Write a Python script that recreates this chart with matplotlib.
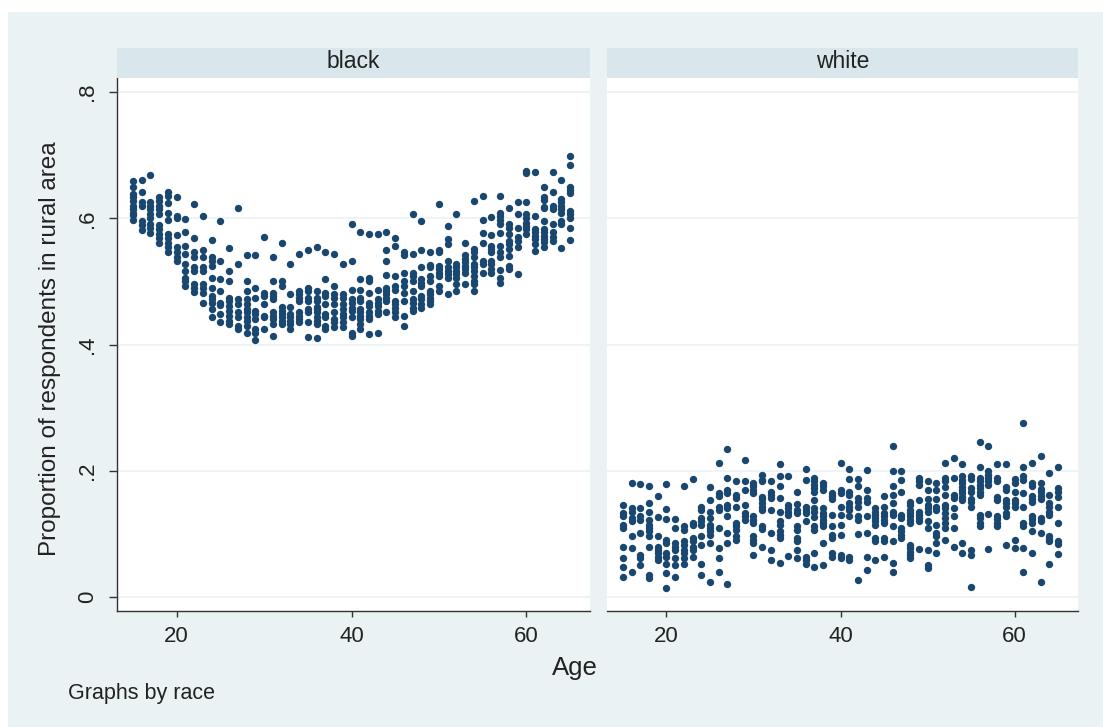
import matplotlib
matplotlib.use("Agg")
import matplotlib.pyplot as plt
from matplotlib.patches import Rectangle
from matplotlib import font_manager

# ---------------- data ----------------
ages = list(range(15, 66))
panel_titles = ["black", "white"]
y_ticks = [0, 0.2, 0.4, 0.6, 0.8]
y_ticklabels = ["0", ".2", ".4", ".6", ".8"]
x_ticks = [20, 40, 60]
x_ticklabels = ["20", "40", "60"]
y_title = "Proportion of respondents in rural area"
x_title = "Age"
note_text = "Graphs by race"

black_vals = [
    [0.659, 0.650, 0.638, 0.633, 0.628, 0.620, 0.615, 0.609, 0.605, 0.597],  # 15
    [0.660, 0.641, 0.625, 0.620, 0.595, 0.590, 0.581],
    [0.668, 0.625, 0.620, 0.615, 0.607, 0.600, 0.591, 0.585, 0.576],
    [0.633, 0.628, 0.620, 0.615, 0.607, 0.590, 0.583, 0.575, 0.568, 0.560],
    [0.641, 0.636, 0.624, 0.609, 0.597, 0.575, 0.568, 0.560, 0.554, 0.547],
    [0.634, 0.604, 0.600, 0.574, 0.555, 0.547, 0.538, 0.532],  # 20
    [0.599, 0.579, 0.556, 0.543, 0.528, 0.517, 0.506, 0.501, 0.493],
    [0.623, 0.568, 0.547, 0.538, 0.523, 0.517, 0.496, 0.489, 0.483],
    [0.603, 0.549, 0.538, 0.522, 0.517, 0.496, 0.489, 0.482, 0.465],
    [0.565, 0.538, 0.532, 0.525, 0.506, 0.489, 0.477, 0.472, 0.466, 0.456, 0.443],
    [0.595, 0.532, 0.503, 0.485, 0.466, 0.463, 0.449, 0.435],  # 25
    [0.553, 0.516, 0.501, 0.474, 0.469, 0.461, 0.453, 0.445, 0.438, 0.432],
    [0.616, 0.527, 0.472, 0.464, 0.451, 0.443, 0.430, 0.424],
    [0.542, 0.501, 0.485, 0.472, 0.464, 0.456, 0.451, 0.443, 0.437, 0.429, 0.419],
    [0.542, 0.490, 0.474, 0.453, 0.448, 0.440, 0.424, 0.419, 0.407],
    [0.571, 0.482, 0.477, 0.464, 0.445, 0.443, 0.424],  # 30
    [0.538, 0.501, 0.482, 0.477, 0.472, 0.451, 0.445, 0.440, 0.432, 0.414],
    [0.560, 0.501, 0.493, 0.459, 0.453, 0.448, 0.443, 0.437, 0.432],
    [0.528, 0.480, 0.460, 0.448, 0.443, 0.437, 0.432, 0.424],
    [0.543, 0.485, 0.480, 0.474, 0.469, 0.451, 0.445, 0.440, 0.435],
    [0.549, 0.490, 0.485, 0.474, 0.469, 0.456, 0.451, 0.435, 0.412],  # 35
    [0.555, 0.485, 0.474, 0.469, 0.460, 0.456, 0.451, 0.443, 0.437, 0.432, 0.411],
    [0.547, 0.503, 0.482, 0.477, 0.464, 0.448, 0.443, 0.429, 0.424],
    [0.543, 0.493, 0.480, 0.474, 0.464, 0.451, 0.440, 0.435, 0.427],
    [0.527, 0.480, 0.474, 0.464, 0.456, 0.448, 0.443, 0.435, 0.427],
    [0.591, 0.533, 0.487, 0.472, 0.466, 0.458, 0.453, 0.443, 0.419, 0.414],  # 40
    [0.578, 0.503, 0.486, 0.474, 0.469, 0.456, 0.451, 0.445, 0.440, 0.432, 0.424],
    [0.575, 0.506, 0.501, 0.482, 0.466, 0.461, 0.451, 0.445, 0.440, 0.416],
    [0.575, 0.487, 0.472, 0.466, 0.461, 0.453, 0.448, 0.419],
    [0.579, 0.550, 0.532, 0.510, 0.490, 0.485, 0.480, 0.474, 0.469, 0.451],
    [0.568, 0.556, 0.509, 0.493, 0.487, 0.469, 0.464, 0.458, 0.451, 0.443],  # 45
    [0.546, 0.541, 0.514, 0.501, 0.493, 0.482, 0.469, 0.445, 0.429],
    [0.607, 0.543, 0.514, 0.509, 0.501, 0.485, 0.472, 0.466, 0.458, 0.453],
    [0.595, 0.550, 0.522, 0.503, 0.498, 0.493, 0.477, 0.472, 0.464, 0.458],
    [0.547, 0.526, 0.522, 0.509, 0.501, 0.485, 0.480, 0.474, 0.469, 0.464],
    [0.623, 0.550, 0.546, 0.525, 0.520, 0.514, 0.509, 0.493, 0.485],  # 50
    [0.588, 0.567, 0.559, 0.533, 0.522, 0.517, 0.511, 0.506, 0.480],
    [0.607, 0.527, 0.522, 0.517, 0.511, 0.506, 0.496, 0.485],
    [0.560, 0.541, 0.535, 0.530, 0.525, 0.520, 0.514, 0.496],
    [0.627, 0.551, 0.546, 0.538, 0.527, 0.522, 0.517, 0.509, 0.501, 0.496, 0.485],
    [0.636, 0.597, 0.577, 0.560, 0.533, 0.527, 0.514],  # 55
    [0.602, 0.574, 0.556, 0.551, 0.546, 0.533, 0.527, 0.520, 0.514],
    [0.636, 0.609, 0.604, 0.597, 0.591, 0.576, 0.556, 0.546, 0.538, 0.518, 0.506, 0.498],
    [0.617, 0.591, 0.585, 0.575, 0.564, 0.559, 0.551, 0.540, 0.525, 0.520],
    [0.625, 0.607, 0.585, 0.570, 0.564, 0.554, 0.511],
    [0.675, 0.671, 0.625, 0.607, 0.601, 0.593, 0.588, 0.583, 0.575],  # 60
    [0.673, 0.604, 0.583, 0.578, 0.572, 0.567, 0.559, 0.548],
    [0.650, 0.633, 0.629, 0.618, 0.616, 0.596, 0.583, 0.578, 0.572, 0.567, 0.562, 0.554],
    [0.673, 0.641, 0.620, 0.615, 0.591, 0.578, 0.570, 0.564],
    [0.660, 0.630, 0.625, 0.620, 0.615, 0.609, 0.596, 0.591, 0.553],
    [0.699, 0.685, 0.649, 0.644, 0.640, 0.612, 0.607, 0.601, 0.585, 0.565],  # 65
]

white_vals = [
    [0.146, 0.133, 0.128, 0.114, 0.109, 0.080, 0.061, 0.048, 0.032],  # 15
    [0.181, 0.141, 0.135, 0.125, 0.120, 0.096, 0.077, 0.040],
    [0.179, 0.141, 0.128, 0.122, 0.101, 0.067, 0.061, 0.051],
    [0.176, 0.149, 0.135, 0.122, 0.114, 0.109, 0.104, 0.096, 0.080, 0.035, 0.030],
    [0.160, 0.126, 0.096, 0.080, 0.075, 0.069, 0.064, 0.059],
    [0.179, 0.139, 0.123, 0.090, 0.086, 0.069, 0.064, 0.053, 0.038, 0.014],  # 20
    [0.123, 0.109, 0.086, 0.080, 0.075, 0.061, 0.051, 0.032],
    [0.176, 0.112, 0.106, 0.088, 0.082, 0.075, 0.069, 0.061, 0.053],
    [0.187, 0.117, 0.114, 0.093, 0.088, 0.080, 0.075, 0.064],
    [0.143, 0.138, 0.125, 0.120, 0.114, 0.096, 0.083, 0.053, 0.035],
    [0.174, 0.154, 0.135, 0.125, 0.114, 0.109, 0.104, 0.099, 0.085, 0.023],  # 25
    [0.213, 0.165, 0.160, 0.143, 0.138, 0.109, 0.077, 0.061, 0.040],
    [0.234, 0.188, 0.170, 0.164, 0.146, 0.141, 0.128, 0.102, 0.085, 0.021],
    [0.183, 0.162, 0.157, 0.143, 0.117, 0.112, 0.106, 0.096, 0.090],
    [0.217, 0.183, 0.170, 0.146, 0.133, 0.128, 0.122],
    [0.180, 0.176, 0.169, 0.164, 0.128, 0.122, 0.117, 0.096, 0.090, 0.085, 0.067],  # 30
    [0.194, 0.186, 0.183, 0.159, 0.155, 0.149, 0.143, 0.138, 0.113, 0.107, 0.080],
    [0.183, 0.167, 0.162, 0.157, 0.138, 0.101, 0.075, 0.059],
    [0.210, 0.192, 0.176, 0.157, 0.135, 0.120, 0.114, 0.104, 0.098, 0.093, 0.054],
    [0.192, 0.146, 0.141, 0.135, 0.130, 0.065],
    [0.167, 0.148, 0.138, 0.133, 0.112, 0.106, 0.093, 0.088, 0.075, 0.061],  # 35
    [0.203, 0.186, 0.143, 0.138, 0.133, 0.120, 0.064, 0.059, 0.053],
    [0.188, 0.183, 0.178, 0.172, 0.167, 0.154, 0.141, 0.135, 0.127, 0.112, 0.106, 0.070, 0.048],
    [0.181, 0.176, 0.170, 0.141, 0.133, 0.128, 0.122, 0.117, 0.112, 0.085, 0.051],
    [0.165, 0.160, 0.155, 0.130, 0.112, 0.098, 0.093, 0.069, 0.064],
    [0.213, 0.170, 0.164, 0.143, 0.130, 0.114, 0.098, 0.067, 0.061],  # 40
    [0.203, 0.187, 0.167, 0.162, 0.149, 0.143, 0.138, 0.128, 0.064, 0.059],
    [0.187, 0.176, 0.157, 0.151, 0.143, 0.128, 0.122, 0.100, 0.027],
    [0.201, 0.170, 0.157, 0.151, 0.128, 0.102, 0.064, 0.043],
    [0.141, 0.135, 0.130, 0.125, 0.120, 0.114, 0.093, 0.088, 0.059],
    [0.160, 0.143, 0.133, 0.128, 0.122, 0.117, 0.093, 0.088, 0.064],  # 45
    [0.240, 0.200, 0.176, 0.162, 0.149, 0.135, 0.130, 0.112, 0.088, 0.054, 0.039],
    [0.200, 0.185, 0.167, 0.130, 0.125, 0.109, 0.104, 0.098, 0.093],
    [0.151, 0.146, 0.138, 0.133, 0.128, 0.122, 0.117, 0.083, 0.077, 0.072, 0.067, 0.061],
    [0.188, 0.183, 0.178, 0.154, 0.135, 0.130, 0.125, 0.120, 0.076],
    [0.183, 0.170, 0.155, 0.146, 0.141, 0.135, 0.120, 0.109, 0.074, 0.051, 0.046],  # 50
    [0.181, 0.169, 0.155, 0.143, 0.138, 0.114, 0.101, 0.096, 0.085, 0.069],
    [0.213, 0.188, 0.183, 0.174, 0.162, 0.146, 0.141, 0.133, 0.125, 0.117, 0.109, 0.090],
    [0.220, 0.188, 0.162, 0.157, 0.141, 0.128, 0.109, 0.079],
    [0.211, 0.191, 0.186, 0.180, 0.175, 0.170, 0.164, 0.159, 0.154, 0.086, 0.070],
    [0.192, 0.187, 0.172, 0.167, 0.156, 0.151, 0.142, 0.075, 0.067, 0.016],  # 55
    [0.245, 0.206, 0.188, 0.183, 0.178, 0.172, 0.167, 0.162, 0.130, 0.125, 0.117, 0.112],
    [0.239, 0.199, 0.194, 0.188, 0.183, 0.178, 0.132, 0.076],
    [0.210, 0.188, 0.183, 0.159, 0.154, 0.129, 0.123, 0.117, 0.112],
    [0.210, 0.175, 0.170, 0.154, 0.149, 0.143, 0.133, 0.128, 0.083],
    [0.187, 0.181, 0.167, 0.154, 0.149, 0.143, 0.091, 0.077],  # 60
    [0.275, 0.206, 0.191, 0.186, 0.165, 0.143, 0.117, 0.112, 0.077, 0.039],
    [0.212, 0.180, 0.176, 0.160, 0.155, 0.150, 0.129, 0.123, 0.118, 0.104, 0.070],
    [0.224, 0.181, 0.171, 0.166, 0.160, 0.155, 0.125, 0.120, 0.102, 0.023],
    [0.196, 0.162, 0.149, 0.143, 0.135, 0.130, 0.097, 0.092, 0.088, 0.052],
    [0.206, 0.172, 0.167, 0.158, 0.143, 0.117, 0.089, 0.084, 0.068],  # 65
]

# ---------------- style ----------------
names = {f.name for f in font_manager.fontManager.ttflist}
FONT = "Liberation Sans Narrow" if "Liberation Sans Narrow" in names else "Liberation Sans"
plt.rcParams["font.family"] = [FONT, "DejaVu Sans"]

W, H = 1103, 727
BG = "#EAF2F3"
STRIP = "#D9E6EB"
GRID = "#EAF2F3"
MARK = "#1A476F"
AX = "#333333"
TXT = "#222222"

fig = plt.figure(figsize=(W / 100, H / 100), dpi=100, facecolor="white")
fig.add_artist(Rectangle((8 / W, 0), 1 - 8 / W, 1 - 12 / H, transform=fig.transFigure,
                         facecolor=BG, edgecolor="none", zorder=-10))

def fx(px):
    return px / W

def fy(py):
    return 1 - py / H

top_px, bot_px = 78, 611
panels = [(117, 590), (607, 1078)]
vals_list = [black_vals, white_vals]

xlim = (15 - 16 / 8.75, 65 + 20 / 8.75)
ylim = (-14 / 631.25, 0.8 + 14 / 631.25)

for i, ((xl, xr), title, vals) in enumerate(zip(panels, panel_titles, vals_list)):
    ax = fig.add_axes([fx(xl), fy(bot_px), fx(xr - xl), (bot_px - top_px) / H])
    ax.set_facecolor("white")
    xs, ys = [], []
    for a, col in zip(ages, vals):
        xs.extend([a] * len(col))
        ys.extend(col)
    ax.plot(xs, ys, linestyle="none", marker="o", markersize=5.3,
            markerfacecolor=MARK, markeredgecolor=MARK, markeredgewidth=0, zorder=3)
    ax.set_xlim(*xlim)
    ax.set_ylim(*ylim)
    ax.set_yticks(y_ticks)
    for yv in y_ticks:
        ax.axhline(yv, color=GRID, lw=1.2, zorder=1)
    ax.set_xticks(x_ticks)
    ax.set_xticklabels(x_ticklabels)
    for s in ["top", "right"]:
        ax.spines[s].set_visible(False)
    ax.spines["bottom"].set_color(AX)
    ax.spines["bottom"].set_linewidth(1.0)
    ax.tick_params(axis="x", direction="out", length=4.5, width=1.0, color=AX,
                   labelsize=16, labelcolor=TXT, pad=6)
    if i == 0:
        ax.spines["left"].set_color(AX)
        ax.spines["left"].set_linewidth(1.0)
        ax.set_yticklabels(y_ticklabels, rotation=90, va="center")
        ax.tick_params(axis="y", direction="out", length=5.8, width=1.0, color=AX,
                       labelsize=16, labelcolor=TXT, pad=8)
    else:
        ax.spines["left"].set_visible(False)
        ax.tick_params(axis="y", left=False, labelleft=False)
    # strip
    fig.add_artist(Rectangle((fx(xl), fy(77.7)), fx(xr - xl), (77.7 - 48) / H,
                             transform=fig.transFigure, facecolor=STRIP, edgecolor="none"))
    fig.text(fx((xl + xr) / 2), fy(62), title, ha="center", va="center",
             fontsize=16.5, color=TXT)

fig.text(fx(50), fy(349), y_title, rotation=90, ha="center", va="center",
         fontsize=17.5, color=TXT)
fig.text(fx(575), fy(668), x_title, ha="center", va="center", fontsize=18.5, color=TXT)
fig.text(fx(68), fy(693), note_text, ha="left", va="center", fontsize=15.5, color=TXT)

fig.savefig("out.png", dpi=100, facecolor="white")
